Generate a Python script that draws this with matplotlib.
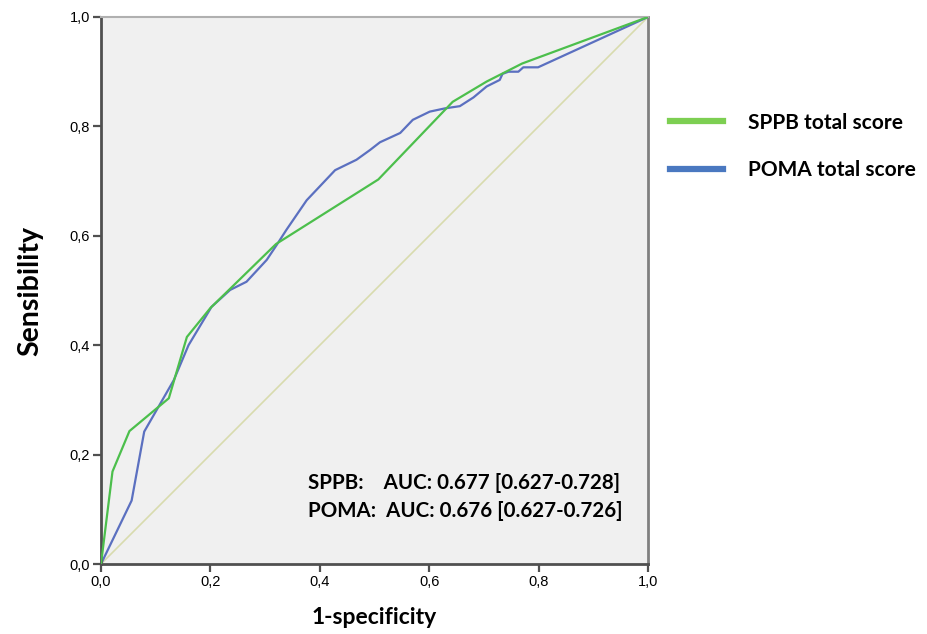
import matplotlib.pyplot as plt
import numpy as np

# ROC points
sppb_fpr = [0.0, 0.021, 0.052, 0.124, 0.157, 0.200, 0.320, 0.507, 0.643, 0.705, 0.770, 1.0]
sppb_tpr = [0.0, 0.169, 0.243, 0.303, 0.415, 0.468, 0.585, 0.703, 0.845, 0.882, 0.915, 1.0]

poma_fpr = [0.0, 0.056, 0.079, 0.133, 0.160, 0.202, 0.236, 0.266, 0.303, 0.321, 0.339, 0.376,
            0.428, 0.467, 0.492, 0.510, 0.547, 0.570, 0.601, 0.629, 0.656, 0.681, 0.705,
            0.729, 0.734, 0.745, 0.763, 0.772, 0.799, 1.0]
poma_tpr = [0.0, 0.116, 0.242, 0.336, 0.400, 0.470, 0.501, 0.516, 0.556, 0.583, 0.611, 0.665,
            0.720, 0.739, 0.757, 0.771, 0.788, 0.812, 0.827, 0.833, 0.837, 0.853, 0.873,
            0.885, 0.896, 0.900, 0.900, 0.908, 0.908, 1.0]

ticks = [0.0, 0.2, 0.4, 0.6, 0.8, 1.0]
tick_labels = ['0,0', '0,2', '0,4', '0,6', '0,8', '1,0']
auc_lines = ['SPPB:    AUC: 0.677 [0.627-0.728]', 'POMA:  AUC: 0.676 [0.627-0.726]']

green = '#4cbf4c'
blue = '#5b70c0'
lab_font = 'Lato'

fig = plt.figure(figsize=(9.27, 6.34), dpi=100)
ax = fig.add_axes([101/927, 70/634, 547/927, 547/634])
ax.set_facecolor('#f0f0f0')

ax.plot([0, 1], [0, 1], color='#d8dbae', lw=1.2, zorder=1)
ax.plot(sppb_fpr, sppb_tpr, color=green, lw=1.6, zorder=3)
ax.plot(poma_fpr, poma_tpr, color=blue, lw=1.6, zorder=2)

ax.set_xlim(0, 1)
ax.set_ylim(0, 1)
ax.set_xticks(ticks)
ax.set_yticks(ticks)
ax.set_xticklabels(tick_labels, fontsize=10.5, family='Liberation Sans')
ax.set_yticklabels(tick_labels, fontsize=10.5, family='Liberation Sans')
ax.tick_params(direction='out', length=6, width=1.6, color='#505050', pad=2)

for s in ['left', 'bottom']:
    ax.spines[s].set_color('#505050')
    ax.spines[s].set_linewidth(2)
ax.spines['right'].set_color('#808080')
ax.spines['right'].set_linewidth(2)
ax.spines['top'].set_color('#b0b0b0')
ax.spines['top'].set_linewidth(1.5)

ax.set_xlabel('1-specificity', fontsize=16.5, fontweight='bold', family=lab_font, labelpad=13)
ax.set_ylabel('Sensibility', fontsize=20.5, fontweight='bold', family=lab_font, labelpad=19)

ax.text(0.379, 0.148, auc_lines[0], fontsize=14.8, fontweight='bold', family=lab_font,
        ha='left', va='center')
ax.text(0.379, 0.097, auc_lines[1], fontsize=14.8, fontweight='bold', family=lab_font,
        ha='left', va='center')

# legend outside the axes
leg_lines = [plt.Line2D([], [], color='#7dcf52', lw=4.5), plt.Line2D([], [], color='#4a78c0', lw=4.5)]
fig.legend(leg_lines, ['SPPB total score', 'POMA total score'], loc='upper left',
           bbox_to_anchor=(651/927, 1 - 94/634), frameon=False, handlelength=2.55,
           handletextpad=1.2, labelspacing=1.3,
           prop={'family': lab_font, 'weight': 'bold', 'size': 15})

fig.savefig('out.png', dpi=100)
